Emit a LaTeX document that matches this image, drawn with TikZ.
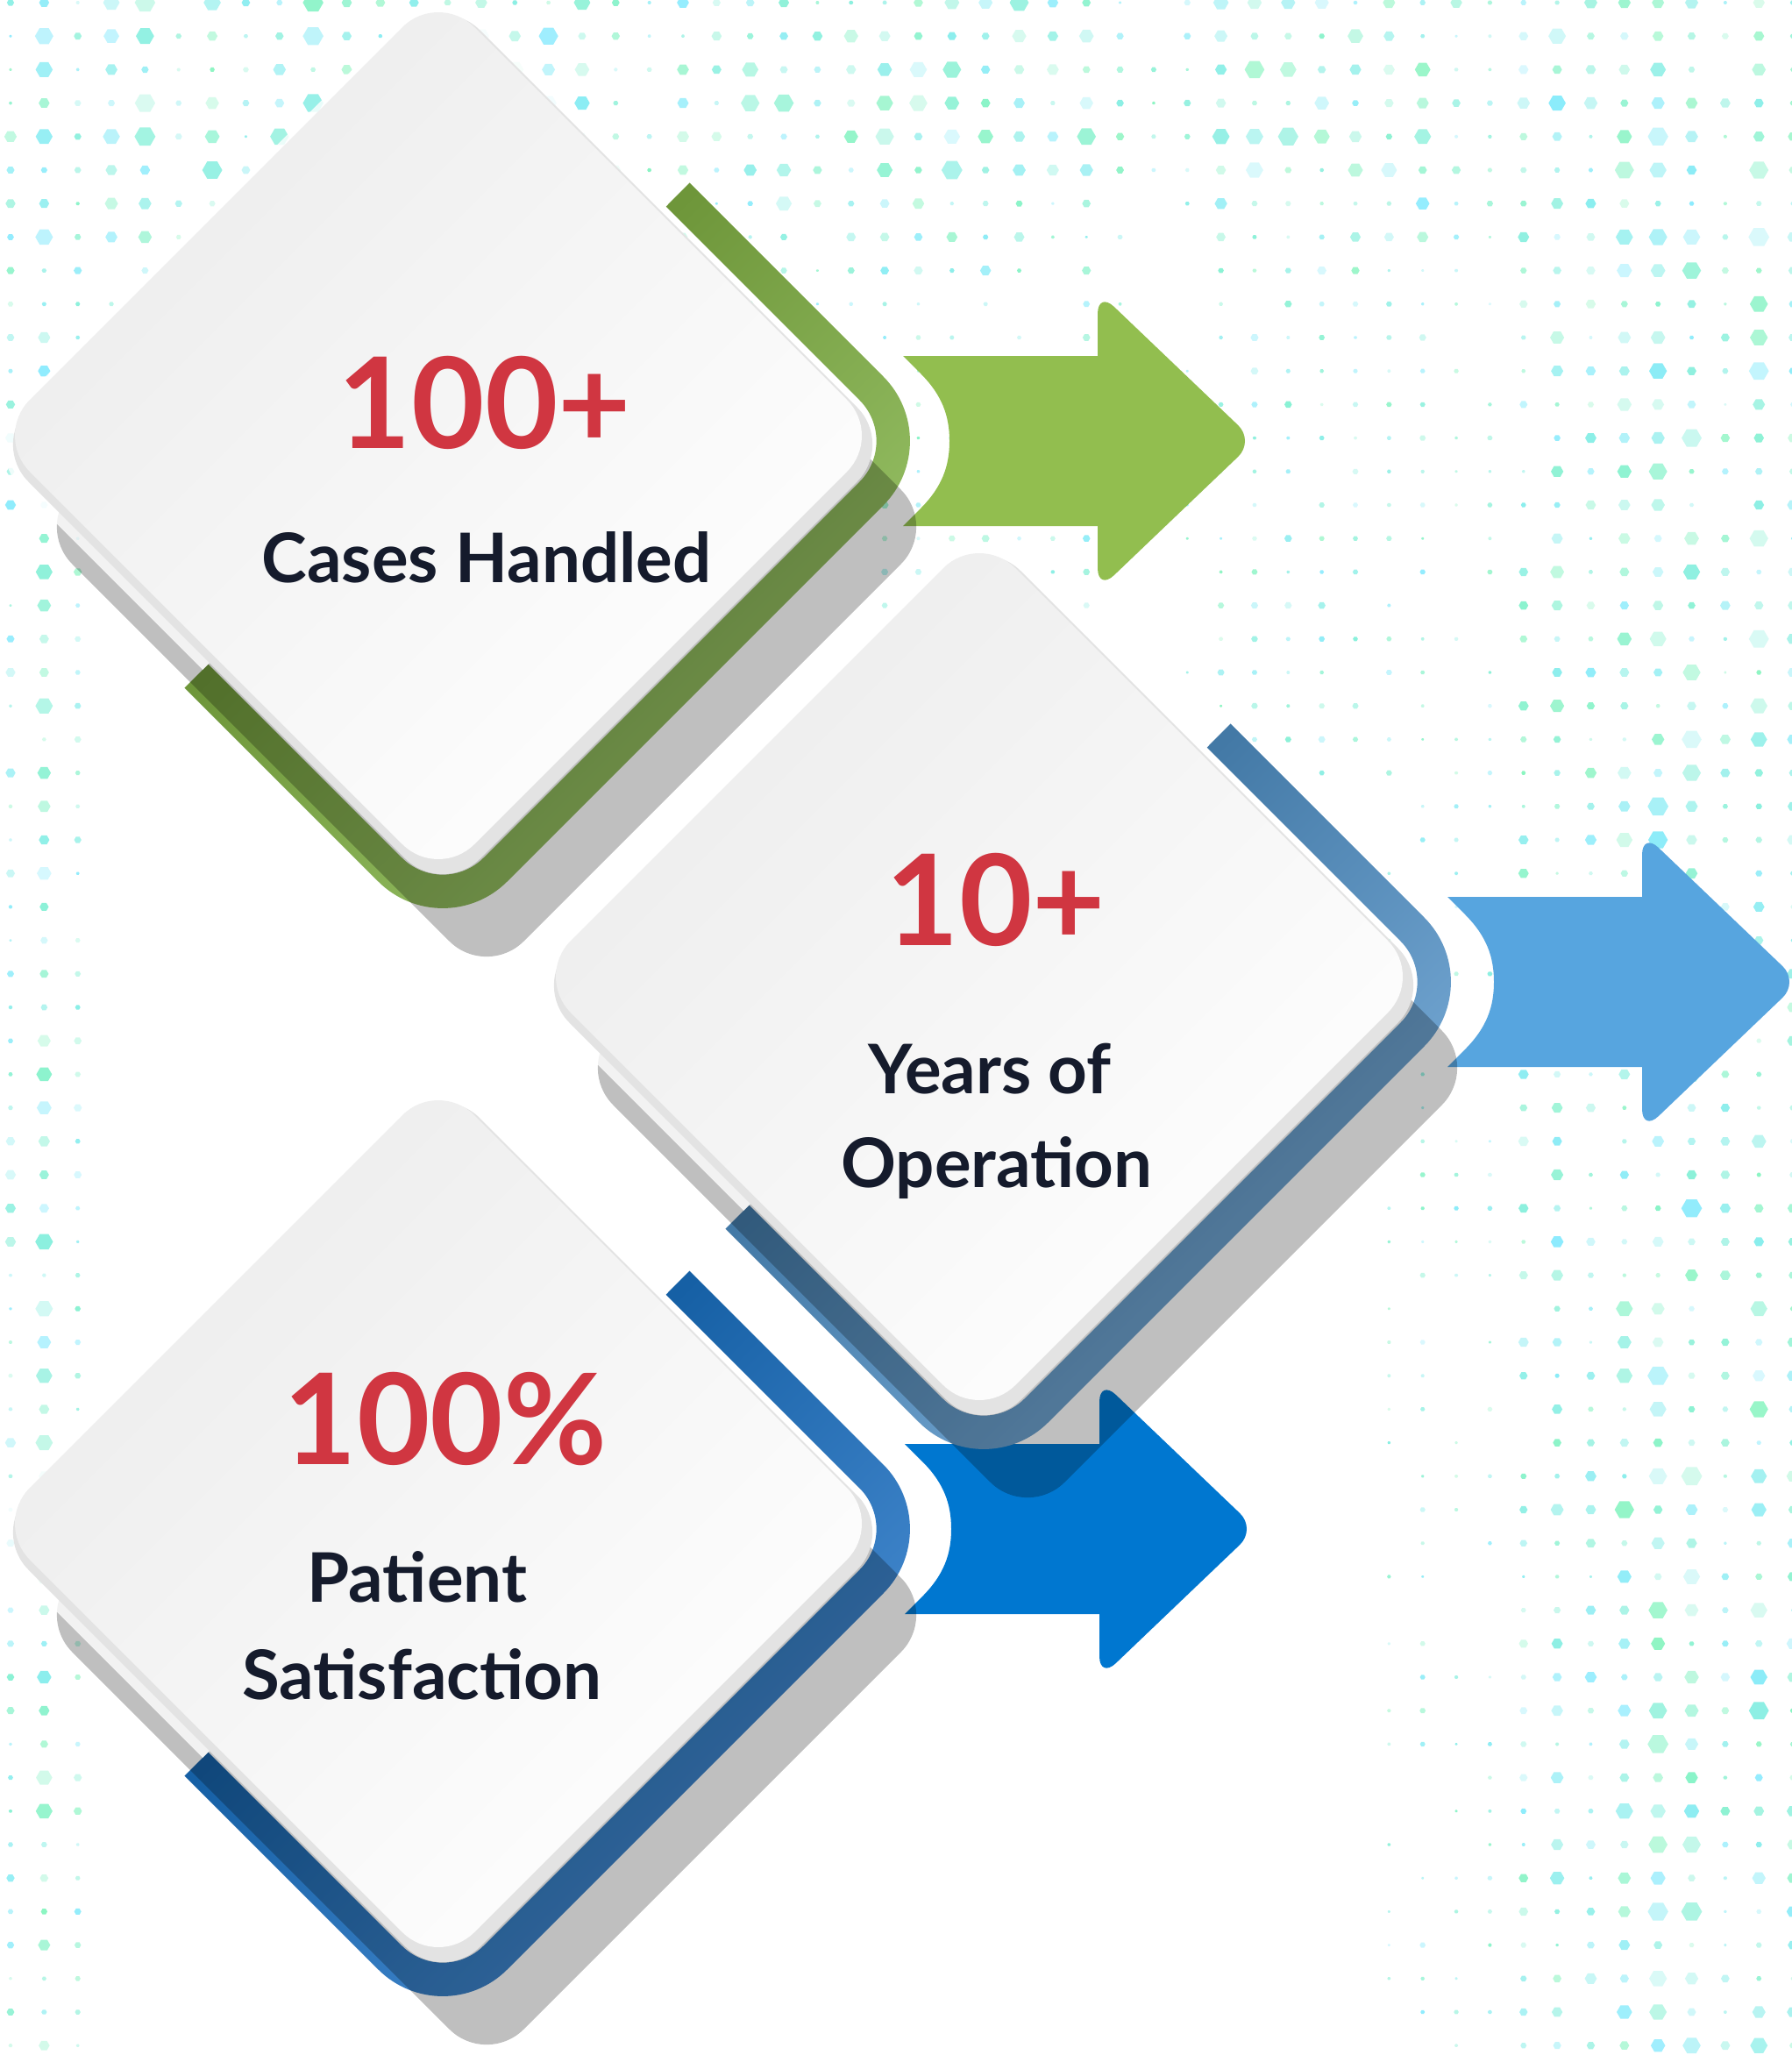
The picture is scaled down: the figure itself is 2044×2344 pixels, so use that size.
\documentclass[tikz,border=0pt]{standalone}
\usepackage{fontspec}
\setmainfont{Lato}
\usepackage{tikz}

\definecolor{numred}{HTML}{D03641}
\definecolor{textnavy}{HTML}{151B2C}
\definecolor{dotmint}{HTML}{8AF5C0}
\definecolor{dotcyan}{HTML}{8AEBFF}
\definecolor{arrowgreen}{HTML}{92BE4F}
\definecolor{arrowsky}{HTML}{57A5DF}
\definecolor{arrowblue}{HTML}{0077D0}
\definecolor{bandgreendk}{HTML}{6E963A}
\definecolor{bandgreenlt}{HTML}{9CC66B}
\definecolor{bandskydk}{HTML}{4379A6}
\definecolor{bandskylt}{HTML}{7DB0DC}
\definecolor{bandbluedk}{HTML}{1660A5}
\definecolor{bandbluelt}{HTML}{4B8FD5}
\definecolor{facegray}{HTML}{ECECEC}
\definecolor{facerim}{HTML}{E3E3E3}

% diamond outline: centre, half diagonal
\newcommand{\dpath}[2]{(#1) +(#2,0) -- +(0,#2) -- +(-#2,0) -- +(0,-#2) -- cycle}

% arrow: tail x, centre y, colour
\newcommand{\statarrow}[3]{%
  \begin{scope}[shift={(#1,#2)}]
    \fill[#3] (0,-97) -- (230,-97) -- (230,97) -- (0,97) -- (20,77)
      .. controls (45,52) and (53,28) .. (53,0)
      .. controls (53,-28) and (45,-52) .. (20,-77) -- cycle;
    \fill[#3, rounded corners=26pt] (222,-171) -- (401,0) -- (222,171) -- cycle;
  \end{scope}}

% card: centre, dark band colour, light band colour
\newcommand{\statcard}[3]{%
  \begin{scope}
    \clip (#1) +(987,-1000) -- +(-1000,987) -- +(1000,1000) -- cycle;
    \shade[even odd rule, top color=#2, bottom color=#3, middle color=#2, shading angle=45]
      [rounded corners=104pt] \dpath{#1}{576} [rounded corners=66pt] \dpath{#1}{522};
  \end{scope}
  \fill[black, fill opacity=0.25, rounded corners=60pt] \dpath{[shift={(50,98)}]#1}{515};
  \begin{scope}
    \clip (#1) +(-1000,-1000) -- +(987,-1000) -- +(-1000,987) -- cycle;
    \draw[white, line width=22pt, draw opacity=0.8, rounded corners=60pt] \dpath{[shift={(0,4)}]#1}{515};
  \end{scope}
  \fill[facerim, rounded corners=60pt] \dpath{[shift={(0,4)}]#1}{515};
  \shade[top color=facegray, bottom color=white, shading angle=45, rounded corners=58pt]
    \dpath{[shift={(-5,-6)}]#1}{507};}

\tikzset{
  num/.style={text=numred, font=\bfseries\fontsize{144}{150}\selectfont, anchor=base, inner sep=0pt},
  stattext/.style={text=textnavy, font=\bfseries\fontsize{78}{84}\selectfont, anchor=base, inner sep=0pt}
}

\begin{document}
\begin{tikzpicture}[x=1pt, y=-1pt]
	\useasboundingbox (0,0) rectangle (2044,2344);
	\fill[white] (0,0) rectangle (2044,2344);

	% dotted background
	\pgfmathsetseed{12}
	\foreach \i in {0,...,53}{
		\pgfmathsetmacro{\colamp}{min(1,0.2+1.2*rnd)}
		\foreach \j in {0,...,61}{
			\pgfmathsetmacro{\dotx}{12+38.35*\i}
			\pgfmathsetmacro{\doty}{3+38.2*\j}
			\pgfmathsetmacro{\dotenv}{max(min(1,max(0,(430-\doty)/230)), 0.85*(\dotx<110), min(1,max(0,(\dotx-1500)/380)), 0.4*(\dotx>1000)*(\doty<900))}
			\pgfmathsetmacro{\dotr}{12*\colamp*\dotenv*(0.2+0.8*rnd)}
			\ifdim\dotr pt>1.5pt
				\pgfmathsetmacro{\dotmix}{int(100*rnd)}
				\pgfmathsetmacro{\dotop}{0.3+0.7*rnd}
				\fill[dotcyan!\dotmix!dotmint, fill opacity=\dotop] (\dotx,\doty) +(0:\dotr) -- +(60:\dotr) -- +(120:\dotr) -- +(180:\dotr) -- +(240:\dotr) -- +(300:\dotr) -- cycle;
			\fi
		}
	}

	\coordinate (c1) at (505,503);
	\coordinate (c2) at (1122,1120);
	\coordinate (c3) at (505,1744);

	\statarrow{1032}{1744}{arrowblue}
	\statarrow{1651}{1120}{arrowsky}
	\statarrow{1030}{503}{arrowgreen}

	\statcard{c1}{bandgreendk}{bandgreenlt}
	\statcard{c2}{bandskydk}{bandskylt}
	\statcard{c3}{bandbluedk}{bandbluelt}

	\node (num1) [num] at (553,511) {100+};
	\node (cases) [stattext] at (555,664) {Cases Handled};
	\node (num2) [num] at (1136,1078) {10+};
	\node (years) [stattext] at (1129,1247) {Years of};
	\node (operation) [stattext] at (1137,1354) {Operation};
	\node (num3) [num] at (508,1670) {100\%};
	\node (patient) [stattext] at (476,1827) {Patient};
	\node (satisfaction) [stattext] at (481,1938) {Satisfaction};
\end{tikzpicture}
\end{document}
